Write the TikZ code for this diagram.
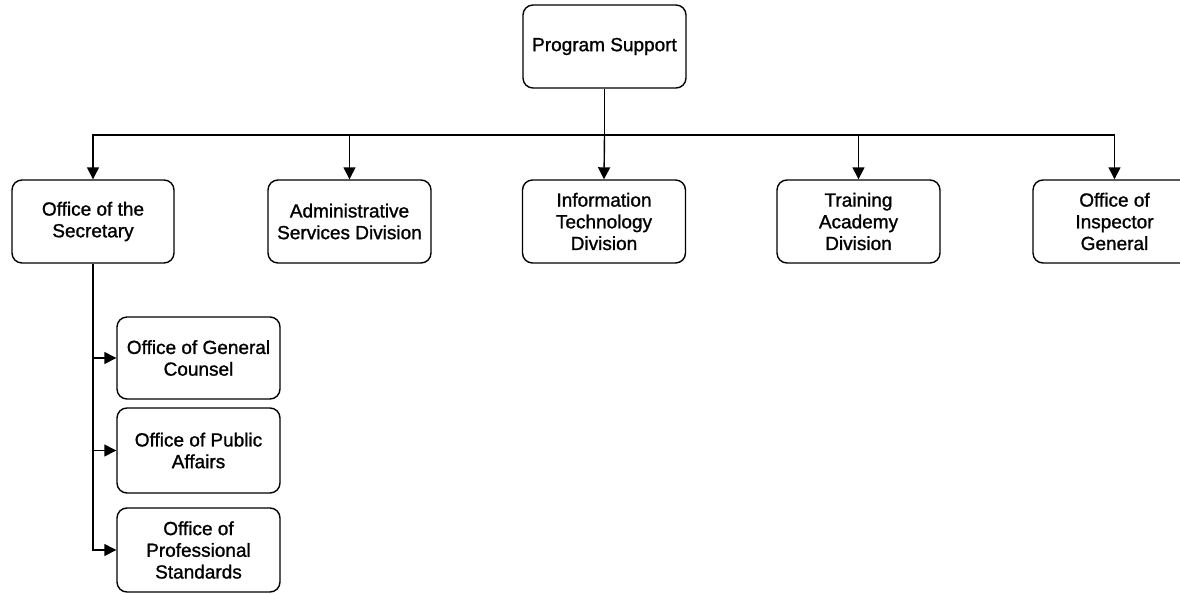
\documentclass[tikz,border=0pt]{standalone}
\usepackage{fontspec}
\setmainfont{Liberation Sans}
\newfontfamily\boxfont{Liberation Sans}[RawFeature={embolden=1.2}]
\usetikzlibrary{arrows.meta}
\begin{document}
\begin{tikzpicture}[x=1pt,y=-1pt,
  box/.style={draw, line width=1.4pt, rounded corners=10pt, minimum width=163pt, minimum height=83pt,
    align=center, inner sep=2pt, font=\boxfont\fontsize{19}{21.7}\selectfont},
  conn/.style={line width=1.4pt},
  arr/.style={conn, -{Triangle[length=12pt,width=12pt]}}]
\useasboundingbox (0,0) rectangle (1180,594);
\begin{scope}
\clip (0,0) rectangle (1180,594);
\node[box] (ps) at (604.5,46.5) {Program Support};
\node[box, minimum width=162pt] (sec) at (93,221.5) {Office of the\\Secretary};
\node[box] (adm) at (349.5,221.5) {Administrative\\Services Division};
\node[box] (it) at (604,221.5) {Information\\Technology\\Division};
\node[box] (ta) at (858.5,221.5) {Training\\Academy\\Division};
\node[box] (ig) at (1114.5,221.5) {Office of\\Inspector\\General};
\node[box, minimum height=82pt] (gc) at (198.5,358) {Office of General\\Counsel};
\node[box, minimum height=85pt] (pa) at (198.5,450.5) {Office of Public\\Affairs};
\node[box, minimum height=84pt] (pst) at (198.5,550) {Office of\\Professional\\Standards};
\coordinate (bus) at (604.5,135);
\draw[conn] (ps.south) -- (bus);
\draw[arr] (bus) -| (sec.north);
\draw[arr] (bus) -| (adm.north);
\draw[arr] (bus) -- (it.north);
\draw[arr] (bus) -| (ta.north);
\draw[arr] (bus) -| (ig.north);
\draw[arr] (sec.south) |- (gc.west);
\draw[arr] (sec.south) |- (pa.west);
\draw[arr] (sec.south) |- (pst.west);
\end{scope}
\end{tikzpicture}
\end{document}
